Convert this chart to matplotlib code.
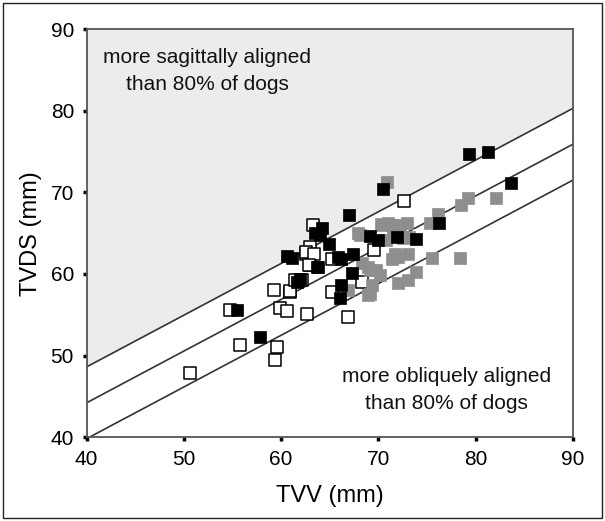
import numpy as np
import matplotlib
matplotlib.use("Agg")
import matplotlib.pyplot as plt
from matplotlib.patches import Rectangle

plt.rcParams['font.family'] = ['Liberation Sans', 'DejaVu Sans']

# open squares (TVV, TVDS)
open_x = [50.6, 54.7, 55.8, 59.6, 59.4, 59.3, 60.9, 59.9, 60.6, 62.7, 62.6, 63.0, 62.2,
          63.3, 63.0, 62.6, 63.4, 62.9, 65.2, 65.2, 66.9, 68.3, 69.6, 72.6, 60.9, 61.4]
open_y = [47.9, 55.6, 51.3, 51.0, 49.4, 58.0, 57.8, 55.8, 55.4, 55.1, 62.5, 61.1, 59.2,
          66.0, 63.3, 62.7, 62.5, 61.1, 61.8, 57.8, 54.7, 59.0, 62.9, 69.0, 57.9, 59.3]

# filled black squares
black_x = [55.5, 57.8, 60.6, 61.6, 61.9, 63.7, 63.8, 64.0, 64.2, 64.9, 65.9, 66.2,
           67.4, 67.0, 69.1, 70.0, 71.9, 66.2, 67.3, 66.1, 70.5, 73.9, 76.2, 79.3,
           81.3, 83.6, 61.1, 63.5]
black_y = [55.6, 52.3, 62.2, 59.0, 59.4, 60.8, 60.9, 64.8, 65.6, 63.7, 62.1, 61.8,
           62.5, 67.2, 64.6, 64.1, 64.5, 58.6, 60.1, 57.0, 70.4, 64.3, 66.3, 74.7,
           75.0, 71.1, 62.0, 65.0]

# filled grey squares
grey_x = [67.9, 68.1, 70.4, 71.4, 71.5, 70.3, 71.0, 71.9, 72.9, 72.2, 73.2, 70.8, 72.5,
          70.9, 76.1, 75.3, 79.2, 71.7, 71.4, 72.0, 73.0, 75.5, 73.9, 73.0, 72.0,
          68.3, 69.1, 70.2, 69.3, 68.9, 66.9, 68.9, 69.8, 69.1, 78.5, 82.1, 78.4]
grey_y = [65.0, 64.8, 66.0, 66.0, 65.0, 66.1, 66.2, 66.0, 66.2, 65.4, 64.5, 64.1, 64.4,
          71.3, 67.4, 66.2, 69.3, 62.5, 61.8, 62.1, 62.5, 61.9, 60.2, 59.2, 58.9,
          61.4, 60.5, 59.9, 58.6, 57.4, 58.0, 60.8, 60.5, 57.6, 68.4, 69.3, 61.9]

# regression line and 80% limits
slope = 0.634
intercept_at_40 = 44.2
band = 4.4

fig = plt.figure(figsize=(6.05, 5.21), dpi=100)
ax = fig.add_axes([0.143, 0.161, 0.804, 0.783])

xx = np.array([40.0, 90.0])
mid = intercept_at_40 + slope * (xx - 40)
ax.fill_between(xx, mid + band, 90, color='#ececec', zorder=0, linewidth=0)
for off in (band, 0, -band):
    ax.plot(xx, mid + off, color='#333333', lw=1.2, zorder=1)

ax.scatter(open_x, open_y, marker='s', s=66, facecolor='white', edgecolor='black',
           linewidth=1.1, zorder=3)
ax.scatter(grey_x, grey_y, marker='s', s=66, facecolor='#8e8e8e', edgecolor='#8e8e8e',
           linewidth=0.5, zorder=4)
ax.scatter(black_x, black_y, marker='s', s=66, facecolor='black', edgecolor='black',
           linewidth=0.5, zorder=5)

ax.text(52.4, 84.9, 'more sagittally aligned\nthan 80% of dogs', ha='center', va='center',
        fontsize=15, linespacing=1.55, color='#111111')
ax.text(77.0, 45.8, 'more obliquely aligned\nthan 80% of dogs', ha='center', va='center',
        fontsize=15, linespacing=1.55, color='#111111')

ax.set_xlim(40, 90)
ax.set_ylim(40, 90)
ax.set_xticks(range(40, 91, 10))
ax.set_yticks(range(40, 91, 10))
ax.tick_params(length=3, width=2.5, labelsize=15, color='black', pad=6)
for sp in ax.spines.values():
    sp.set_color('#555555')
    sp.set_linewidth(1.3)
ax.set_xlabel('TVV (mm)', fontsize=17, labelpad=12)
ax.set_ylabel('TVDS (mm)', fontsize=17, labelpad=6)

fig.patches.append(Rectangle((0.005, 0.005), 0.99, 0.99, transform=fig.transFigure,
                             fill=False, edgecolor='#222222', linewidth=1.0))

fig.savefig('out.png', dpi=100)
